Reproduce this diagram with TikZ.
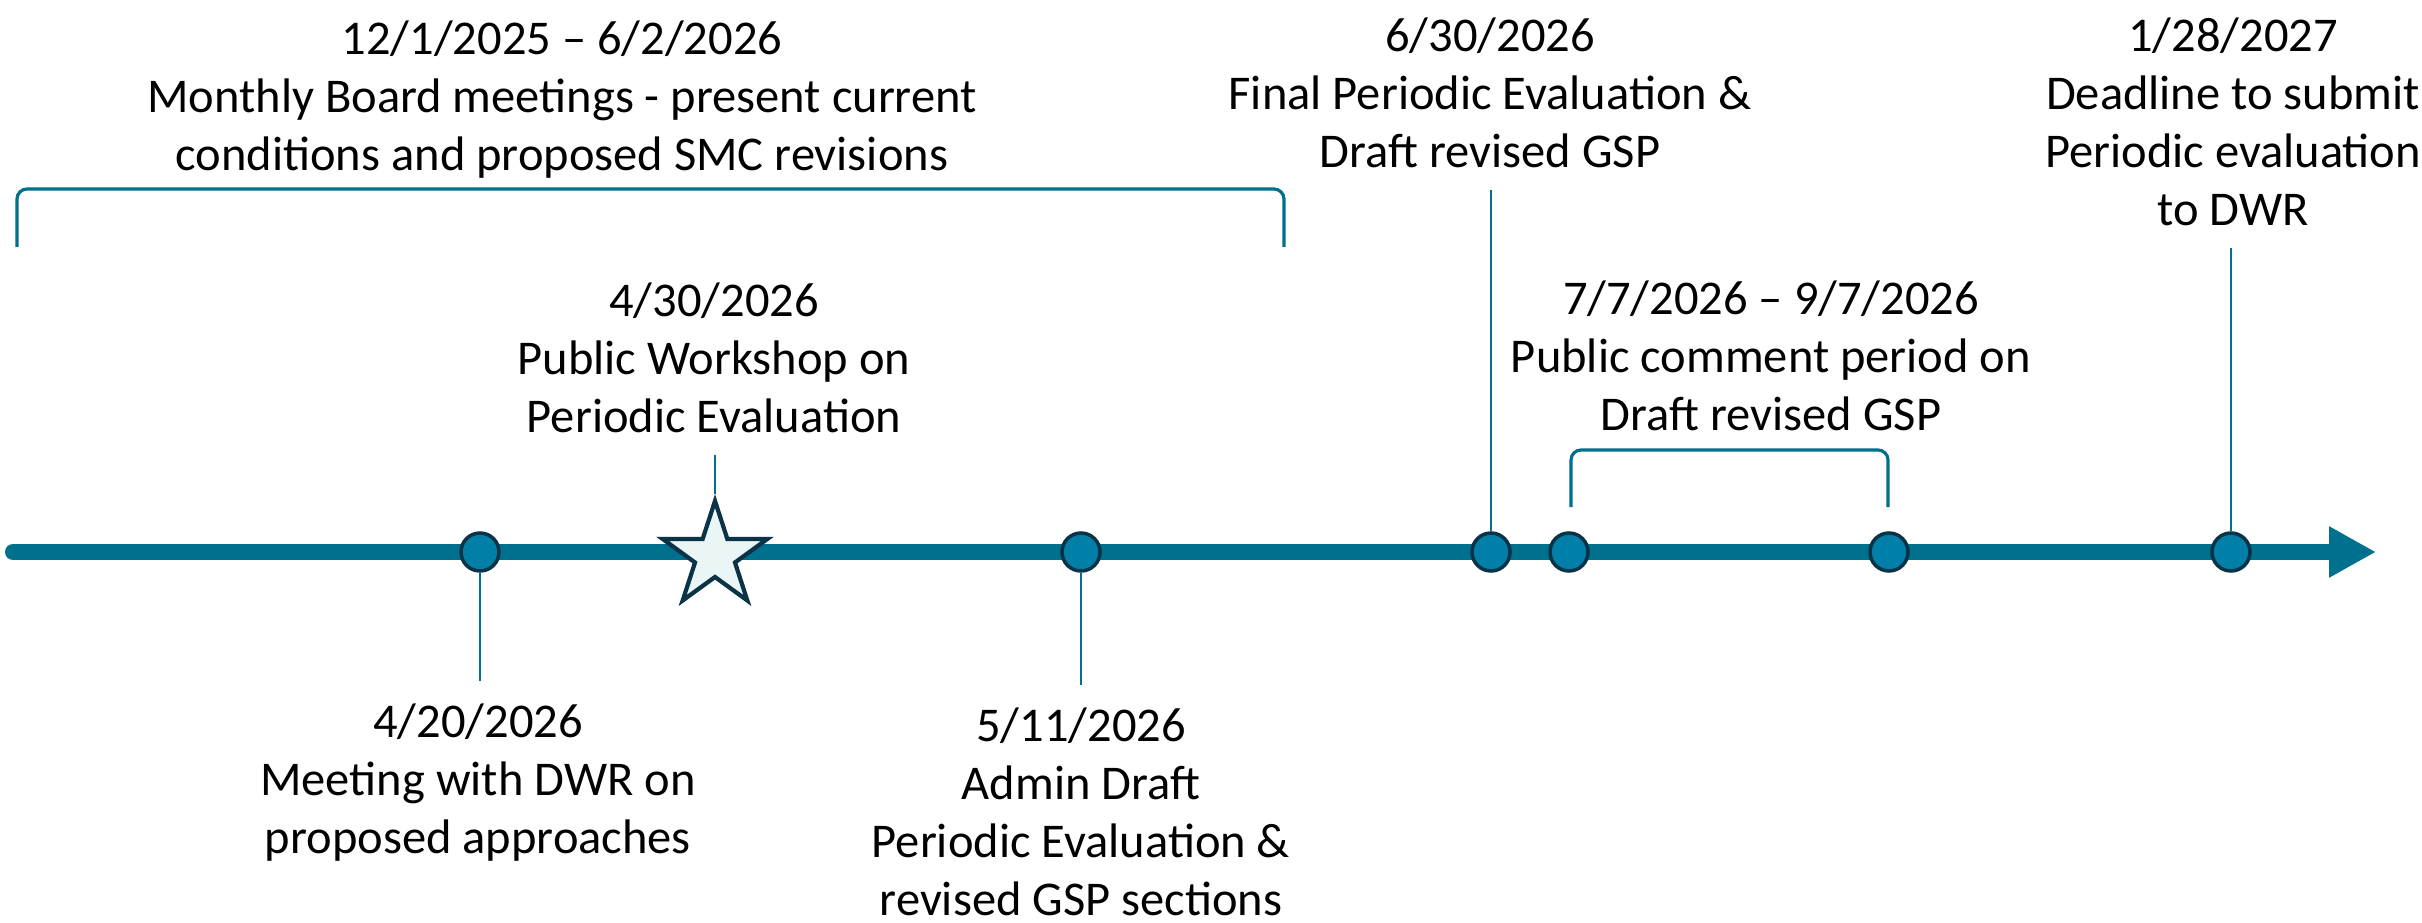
\documentclass[tikz,border=0pt]{standalone}
\usepackage{fontspec}
\setmainfont{Carlito}
\usetikzlibrary{arrows.meta, positioning, shapes.geometric}
\definecolor{tline}{HTML}{00708F}
\definecolor{tdot}{HTML}{007FA8}
\definecolor{tdark}{HTML}{0B3347}
\definecolor{tstar}{HTML}{EAF5F6}
\tikzset{
  lbl/.style={align=center, inner sep=0pt, font=\fontsize{13.8}{16.5}\selectfont},
  ev/.style={circle, draw=tdark, fill=tdot, line width=1pt,
             minimum size=3.8mm, inner sep=0pt},
  tick/.style={draw=tline, line width=0.7pt, shorten >=2.2mm},
  brak/.style={draw=tline, line width=0.9pt, rounded corners=1mm},
}

\begin{document}
\begin{tikzpicture}[x=0.1mm, y=-0.1mm]
  \useasboundingbox (0,0) rectangle (2422,923);
  \draw[tline, line width=1.6mm, line cap=round,
        -{Triangle[length=4.7mm, width=4.8mm]}] (13,552) -- (2376,552);
  \node[ev] (c420) at (480,552) {};
  \node[star, star points=5, star point ratio=2.618, draw=tdark, fill=tstar,
        line width=1.2pt, minimum size=11mm, inner sep=0pt] (s430) at (715,556) {};
  \node[ev] (c511) at (1081,552) {};
  \node[ev] (c630) at (1491,552) {};
  \node[ev] (c707) at (1569,552) {};
  \node[ev] (c907) at (1889,552) {};
  \node[ev] (c128) at (2231,552) {};
  \node[lbl, anchor=north] (tbrd) at (562,20) {12/1/2025 -- 6/2/2026\\Monthly Board meetings - present current\\conditions and proposed SMC revisions};
  \node[lbl, anchor=north] (t430) at (714,282) {4/30/2026\\Public Workshop on\\Periodic Evaluation};
  \node[lbl, anchor=north] (t630) at (1490,17) {6/30/2026\\Final Periodic Evaluation \&\\Draft revised GSP};
  \node[lbl, anchor=north] (tpub) at (1771,280) {7/7/2026 -- 9/7/2026\\Public comment period on\\Draft revised GSP};
  \node[lbl, anchor=north] (t128) at (2233,17) {1/28/2027\\Deadline to submit\\Periodic evaluation\\to DWR};
  \node[lbl, anchor=north] (t420) at (478,703) {4/20/2026\\Meeting with DWR on\\proposed approaches};
  \node[lbl, anchor=north] (t511) at (1081,707) {5/11/2026\\Admin Draft\\Periodic Evaluation \&\\revised GSP sections};
  \draw[tick] (c420.south) -- (c420 |- t420.north);
  \draw[tick] (s430.north) -- (s430 |- t430.south);
  \draw[tick] (c511.south) -- (c511 |- t511.north);
  \draw[tick] (c630.north) -- (c630 |- t630.south);
  \draw[tick] (c128.north) -- (c128 |- t128.south);
  \draw[brak] (17,247) |- (1284,189) -- (1284,247);
  \draw[brak] (1571,507) |- (1888,450) -- (1888,507);
\end{tikzpicture}
\end{document}
